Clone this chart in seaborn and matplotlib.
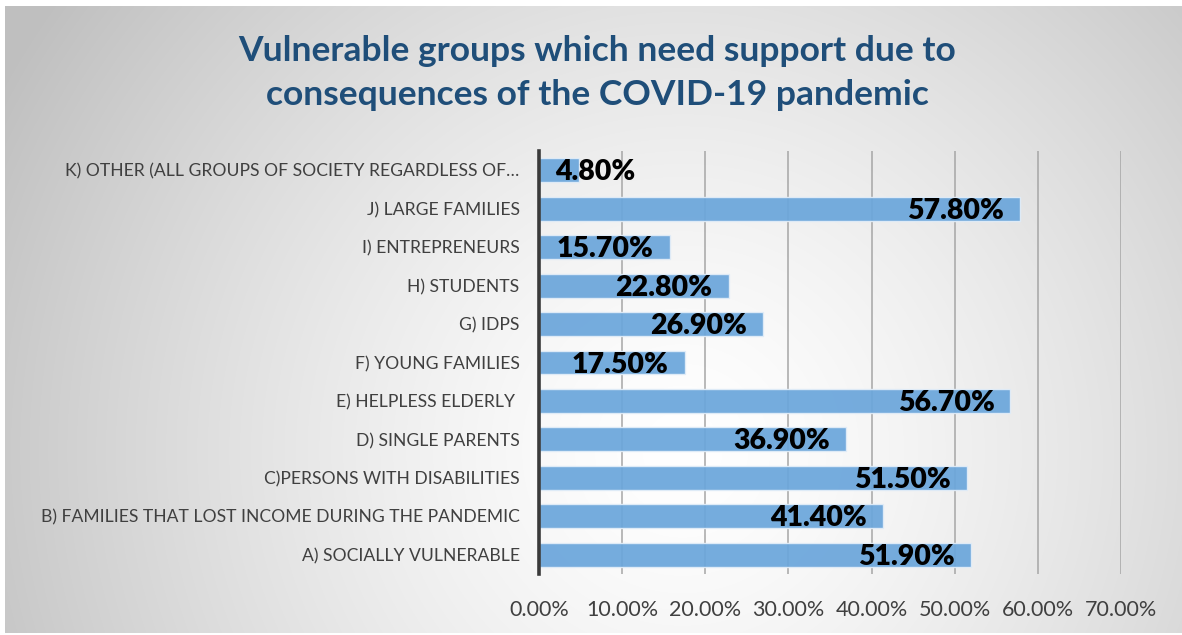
import numpy as np
import pandas as pd
import matplotlib
matplotlib.use("Agg")
import matplotlib.pyplot as plt
import seaborn as sns

# Survey results: share of respondents naming each group
groups = [
    "K) OTHER (ALL GROUPS OF SOCIETY REGARDLESS OF\u2026",
    "J) LARGE FAMILIES",
    "I) ENTREPRENEURS",
    "H) STUDENTS",
    "G) IDPS",
    "F) YOUNG FAMILIES",
    "E) HELPLESS ELDERLY ",
    "D) SINGLE PARENTS",
    "C)PERSONS WITH DISABILITIES",
    "B) FAMILIES THAT LOST INCOME DURING THE PANDEMIC",
    "A) SOCIALLY VULNERABLE",
]
shares = [4.8, 57.8, 15.7, 22.8, 26.9, 17.5, 56.7, 36.9, 51.5, 41.4, 51.9]
x_ticks = [0, 10, 20, 30, 40, 50, 60, 70]

title = "Vulnerable groups which need support due to\nconsequences of the COVID-19 pandemic"

sns.set_theme(style="white")
plt.rcParams["font.family"] = ["Lato", "DejaVu Sans"]

W, H = 1182, 635
fig = plt.figure(figsize=(W / 100, H / 100), dpi=100)
fig.patch.set_facecolor("white")

# Radial grey-to-white background of the chart area
bg = fig.add_axes([5 / W, 2 / H, 1 - 5 / W, 1 - 8 / H], zorder=0)
yy, xx = np.mgrid[0:H, 0:W]
cx, cy = 680, 450
d = np.sqrt((xx - cx) ** 2 + (yy - cy) ** 2) / 780.0
d = np.clip(d, 0, 1) ** 1.4
grey = 1.0 - d * (1.0 - 0.75)
img = np.dstack([grey, grey, grey])
bg.imshow(img, aspect="auto", extent=[0, 1, 0, 1], interpolation="bilinear")
bg.set_axis_off()

ax = fig.add_axes([539 / W, 1 - 574 / H, (1121 - 539) / W, (574 - 151) / H], zorder=1)
ax.patch.set_alpha(0)

df = pd.DataFrame({"group": groups, "share": shares})
sns.barplot(data=df, y="group", x="share", orient="h", ax=ax,
            color="#6BA6DB", saturation=1, alpha=0.93, width=0.62,
            edgecolor="#e2edf8", linewidth=1.0, zorder=3)

ax.set_xlim(0, 70)
ax.set_ylim(len(groups) - 0.5, -0.5)
ax.set_xticks(x_ticks)
ax.set_xticklabels([f"{t:.2f}%" for t in x_ticks], color="#404040", fontsize=15.5)
ax.tick_params(axis="x", length=0, pad=19)
ax.tick_params(axis="y", length=0, pad=14, labelsize=12.6, labelcolor="#404040")
ax.set_xlabel("")
ax.set_ylabel("")

ax.grid(axis="x", color="#a6a6a6", linewidth=1.1, zorder=1)
ax.set_axisbelow(True)
for side in ["top", "right", "bottom"]:
    ax.spines[side].set_visible(False)
ax.spines["left"].set_color("#3a3a3a")
ax.spines["left"].set_linewidth(2.6)
ax.spines["left"].set_zorder(4)

# Value labels inside the end of each bar
fig.canvas.draw()
renderer = fig.canvas.get_renderer()
x0_px = ax.transData.transform((0, 0))[0]
label_style = dict(textcoords="offset points", va="center", fontsize=20.5,
                   fontweight="heavy", color="black", zorder=5)
for i, v in enumerate(shares):
    t = ax.annotate(f"{v:.2f}%", xy=(v, i), xytext=(-11.5, -1.5), ha="right",
                    **label_style)
    bb = t.get_window_extent(renderer)
    if bb.x0 < x0_px + 16:
        t.remove()
        ax.annotate(f"{v:.2f}%", xy=(0, i), xytext=(11.5, -1.5), ha="left",
                    **label_style)

fig.text(597 / W, 1 - 73 / H, title, ha="center", va="center",
         fontsize=25.5, fontweight="bold", color="#1F4E79", linespacing=1.45)

fig.savefig("out.png", dpi=100)
